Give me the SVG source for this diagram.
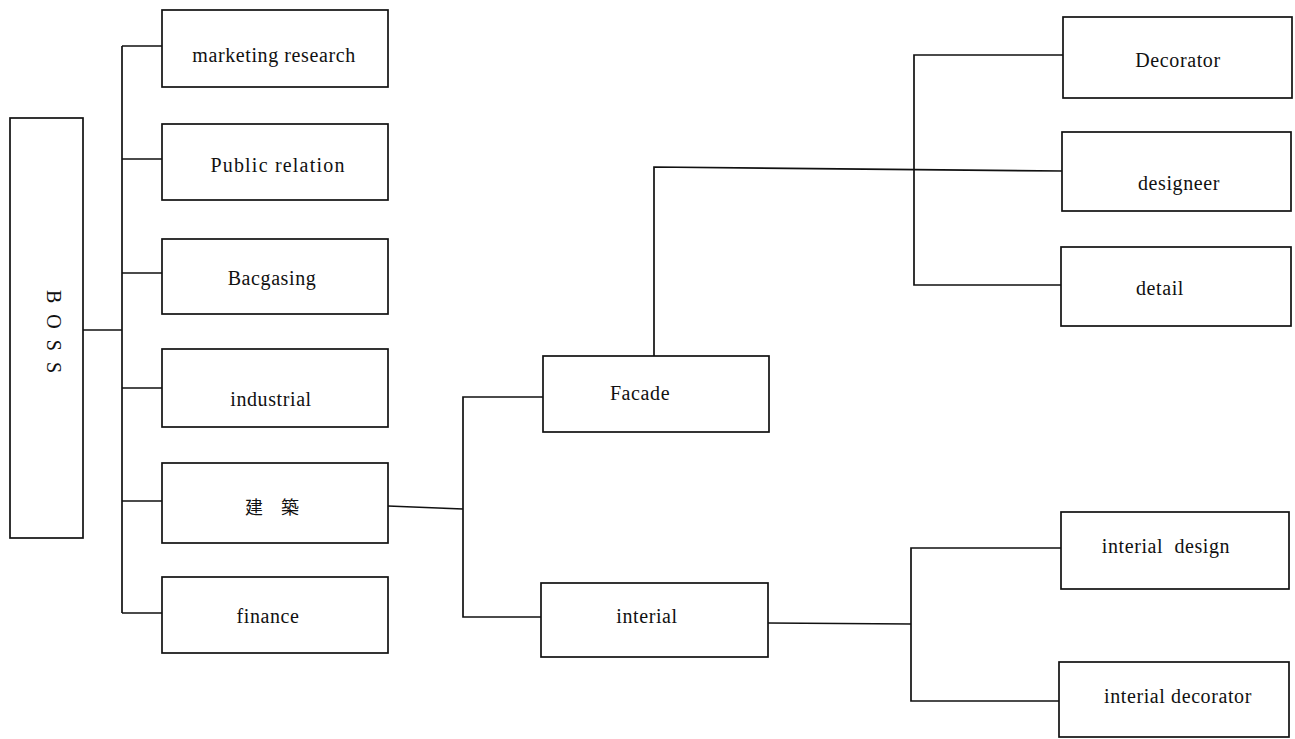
<svg xmlns="http://www.w3.org/2000/svg" width="1295" height="739" viewBox="0 0 1295 739">
<style>
.box{fill:#fff;stroke:#111;stroke-width:1.7}
.t{font-family:"Liberation Serif","Noto Sans CJK SC",serif;font-size:20px;letter-spacing:0.6px;fill:#111;text-anchor:middle}
.c{fill:none;stroke:#111;stroke-width:1.7}
</style>
<rect width="1295" height="739" fill="#fff"/>
<g id="connectors">
<path class="c" d="M83,330 H122"/>
<path class="c" d="M122,46 V613"/>
<path class="c" d="M122,46 H162 M122,159 H162 M122,273 H162 M122,388 H162 M122,501 H162 M122,613 H162"/>
<path class="c" d="M388,506 L463,509"/>
<path class="c" d="M543,397 H463 V617 H541"/>
<path class="c" d="M654,356 V167 L1062,171"/>
<path class="c" d="M1063,55 H914 V285 H1062"/>
<path class="c" d="M768,623 L911,624"/>
<path class="c" d="M1061,548 H911 V701 H1059"/>
</g>
<g id="boss"><rect class="box" x="10" y="118" width="73" height="420"/>
<text class="t" style="text-anchor:start;letter-spacing:11px" transform="translate(47,290) rotate(90)">BOSS</text></g>
<g id="marketing"><rect class="box" x="162" y="10" width="226" height="77"/><text class="t" x="274" y="62">marketing research</text></g>
<g id="public"><rect class="box" x="162" y="124" width="226" height="76"/><text class="t" x="278" y="172" style="letter-spacing:1.2px">Public relation</text></g>
<g id="bacgasing"><rect class="box" x="162" y="239" width="226" height="75"/><text class="t" x="272" y="285">Bacgasing</text></g>
<g id="industrial"><rect class="box" x="162" y="349" width="226" height="78"/><text class="t" x="271" y="406">industrial</text></g>
<g id="jianzhu"><rect class="box" x="162" y="463" width="226" height="80"/><text class="t" x="272" y="514" style="font-size:18px;letter-spacing:0">建　築</text></g>
<g id="finance"><rect class="box" x="162" y="577" width="226" height="76"/><text class="t" x="268" y="623">finance</text></g>
<g id="facade"><rect class="box" x="543" y="356" width="226" height="76"/><text class="t" x="640" y="400">Facade</text></g>
<g id="interial"><rect class="box" x="541" y="583" width="227" height="74"/><text class="t" x="647" y="623">interial</text></g>
<g id="decorator"><rect class="box" x="1063" y="17" width="229" height="81"/><text class="t" x="1178" y="67">Decorator</text></g>
<g id="designeer"><rect class="box" x="1062" y="132" width="229" height="79"/><text class="t" x="1179" y="190">designeer</text></g>
<g id="detail"><rect class="box" x="1061" y="247" width="230" height="79"/><text class="t" x="1160" y="295">detail</text></g>
<g id="interial-design"><rect class="box" x="1061" y="512" width="228" height="77"/><text class="t" x="1166" y="553">interial&#160; design</text></g>
<g id="interial-decorator"><rect class="box" x="1059" y="662" width="230" height="75"/><text class="t" x="1178" y="703">interial decorator</text></g>
</svg>
